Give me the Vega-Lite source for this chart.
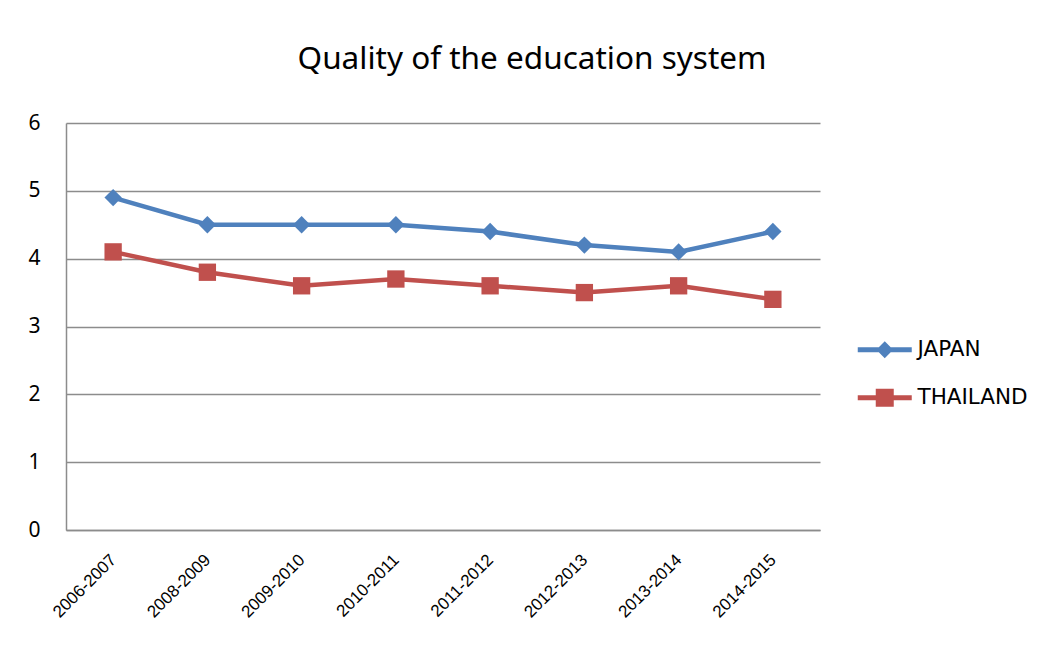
{
  "$schema": "https://vega.github.io/schema/vega-lite/v6.json",
  "width": 754,
  "height": 407,
  "autosize": {"type": "none"},
  "padding": {"left": 66, "top": 123, "right": 236, "bottom": 116},
  "background": "white",
  "title": {
    "text": "Quality of the education system",
    "font": "Noto Sans",
    "fontSize": 31.5,
    "fontWeight": "normal",
    "color": "#000000",
    "anchor": "middle",
    "frame": "group",
    "dx": 89,
    "offset": 37
  },
  "data": {
    "values": [
      {"period": "2006-2007", "country": "JAPAN", "value": 4.9},
      {"period": "2008-2009", "country": "JAPAN", "value": 4.5},
      {"period": "2009-2010", "country": "JAPAN", "value": 4.5},
      {"period": "2010-2011", "country": "JAPAN", "value": 4.5},
      {"period": "2011-2012", "country": "JAPAN", "value": 4.4},
      {"period": "2012-2013", "country": "JAPAN", "value": 4.2},
      {"period": "2013-2014", "country": "JAPAN", "value": 4.1},
      {"period": "2014-2015", "country": "JAPAN", "value": 4.4},
      {"period": "2006-2007", "country": "THAILAND", "value": 4.1},
      {"period": "2008-2009", "country": "THAILAND", "value": 3.8},
      {"period": "2009-2010", "country": "THAILAND", "value": 3.6},
      {"period": "2010-2011", "country": "THAILAND", "value": 3.7},
      {"period": "2011-2012", "country": "THAILAND", "value": 3.6},
      {"period": "2012-2013", "country": "THAILAND", "value": 3.5},
      {"period": "2013-2014", "country": "THAILAND", "value": 3.6},
      {"period": "2014-2015", "country": "THAILAND", "value": 3.4}
    ]
  },
  "encoding": {
    "x": {
      "field": "period",
      "type": "ordinal",
      "sort": null,
      "scale": {"type": "point", "padding": 0.5},
      "axis": {
        "title": null,
        "labelAngle": -45,
        "labelAlign": "right",
        "labelBaseline": "middle",
        "labelFont": "Liberation Sans",
        "labelFontSize": 17,
        "labelColor": "#000000",
        "labelPadding": 27,
        "ticks": false,
        "grid": false,
        "domainColor": "#8c8c8c",
        "domainWidth": 1.5
      }
    },
    "y": {
      "field": "value",
      "type": "quantitative",
      "scale": {"domain": [0, 6], "nice": false, "zero": true},
      "axis": {
        "title": null,
        "values": [0, 1, 2, 3, 4, 5, 6],
        "labelFont": "Noto Sans",
        "labelFontSize": 21,
        "labelColor": "#000000",
        "labelPadding": 26,
        "ticks": false,
        "grid": true,
        "gridColor": "#8c8c8c",
        "gridWidth": 1.5,
        "domainColor": "#8c8c8c",
        "domainWidth": 1.5
      }
    },
    "color": {
      "field": "country",
      "type": "nominal",
      "scale": {"domain": ["JAPAN", "THAILAND"], "range": ["#4F81BD", "#C0504D"]},
      "legend": {
        "title": null,
        "orient": "none",
        "legendX": 808,
        "legendY": 216,
        "symbolSize": 324,
        "labelOffset": 22,
        "labelFont": "DejaVu Sans",
        "labelFontSize": 21.5,
        "labelColor": "#000000",
        "rowPadding": 25,
        "encode": {
          "symbols": {
            "update": {
              "shape": {"signal": "datum.value === 'JAPAN' ? 'M-3,-0.28L-0.66,-0.28L0,-0.94L0.66,-0.28L3,-0.28L3,0.28L0.66,0.28L0,0.94L-0.66,0.28L-3,0.28Z' : 'M-3,-0.28L-1,-0.28L-1,-1L1,-1L1,-0.28L3,-0.28L3,0.28L1,0.28L1,1L-1,1L-1,0.28L-3,0.28Z'"},
              "fill": {"signal": "datum.value === 'JAPAN' ? '#4F81BD' : '#C0504D'"},
              "fillOpacity": {"value": 1},
              "strokeWidth": {"value": 0},
              "opacity": {"value": 1}
            }
          }
        }
      }
    }
  },
  "layer": [
    {
      "mark": {"type": "line", "strokeWidth": 4.5},
      "encoding": {}
    },
    {
      "transform": [{"filter": "datum.country === 'JAPAN'"}],
      "mark": {"type": "point", "filled": true, "opacity": 1, "size": 300, "shape": "diamond"},
      "encoding": {}
    },
    {
      "transform": [{"filter": "datum.country === 'THAILAND'"}],
      "mark": {"type": "point", "filled": true, "opacity": 1, "size": 300, "shape": "square"},
      "encoding": {}
    }
  ],
  "config": {
    "view": {"stroke": null}
  }
}
